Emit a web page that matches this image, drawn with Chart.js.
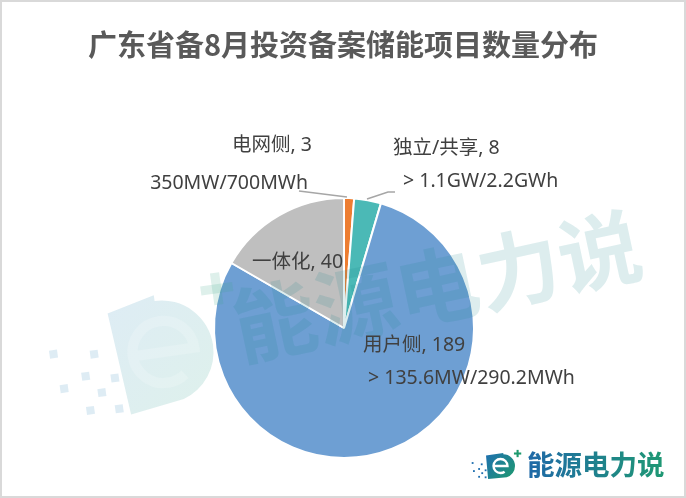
<!DOCTYPE html>
<html>
<head>
<meta charset="utf-8">
<script src="https://cdn.jsdelivr.net/npm/chart.js@4"></script>
<style>
html, body { margin: 0; padding: 0; background: #fff; }
#wrap { width: 682px; height: 494px; border: 2px solid #d9d9d9; }
canvas { display: block; }
</style>
</head>
<body>
<div id="wrap"><canvas id="myChart" width="682" height="494"></canvas></div>
<script>
'use strict';
let chartTitle = '广东省备8月投资备案储能项目数量分布';
let categories = ['电网侧', '独立/共享', '用户侧', '一体化'];
let projectCounts = [3, 8, 189, 40];
let capacityNotes = ['350MW/700MWh', '> 1.1GW/2.2GWh', '> 135.6MW/290.2MWh', ''];
let sliceColors = ['#ED7D31', '#4BB9B6', '#6E9FD3', '#BFBFBF'];
let brandName = '能源电力说';

let FONT = '"Noto Sans CJK SC", "Noto Sans", sans-serif';
let LABEL_FONT = '"Noto Sans", "Noto Sans CJK SC", sans-serif';

// label placement, relative to pie centre (dx, dy) -- not data
let labelSpots = [
    { align: 'right', l1: [-32, -183], l2: [-36, -145], leader: [[-45, -137], [3, -131]] },
    { align: 'left', l1: [49, -180], l2: [59, -147], leader: [[23, -129], [44, -136], [51, -136]] },
    { align: 'left', l1: [19, 17], l2: [24, 50] },
    { align: 'left', l1: [-92, -66] }
];

function drawLogoIcon(ctx, x, y, w, h, fillA, fillB) {
    // D shaped badge with a white "e"
    ctx.save();
    let g = ctx.createLinearGradient(x, y, x + w, y + h);
    g.addColorStop(0, fillA);
    g.addColorStop(1, fillB);
    ctx.fillStyle = g;
    let rr = h * 0.45;
    ctx.beginPath();
    ctx.moveTo(x, y + h * 0.1);
    ctx.lineTo(x + w - rr, y);
    ctx.arc(x + w - rr, y + h * 0.5, rr, -Math.PI / 2, Math.PI / 2 - 0.3);
    ctx.lineTo(x + h * 0.08, y + h);
    ctx.closePath();
    ctx.fill();
    // white "e" strokes
    ctx.strokeStyle = '#fff';
    ctx.lineWidth = h * 0.09;
    let ex = x + w * 0.5, ey = y + h * 0.5, er = h * 0.27;
    ctx.beginPath();
    ctx.moveTo(ex - er, ey);
    ctx.lineTo(ex + er, ey);
    ctx.arc(ex, ey, er, 0, Math.PI * 0.3, true);
    ctx.stroke();
    // plus sign
    ctx.fillStyle = fillB;
    let p = h * 0.08;
    let px = x + w + h * 0.1, py = y + h * 0.02;
    ctx.fillRect(px - h * 0.14, py - p / 2, h * 0.28, p);
    ctx.fillRect(px - p / 2, py - h * 0.14, p, h * 0.28);
    // scattered pixels
    ctx.fillStyle = fillA;
    let dots = [[-0.55, 0.35], [-0.2, 0.4], [-0.3, 0.58], [-0.5, 0.66], [-0.18, 0.74], [-0.05, 0.63], [-0.3, 0.88], [-0.05, 0.9]];
    let d = h * 0.07;
    dots.forEach(function (pt) {
        ctx.fillRect(x + pt[0] * h, y + pt[1] * h, d, d);
    });
    ctx.restore();
}

let decorPlugin = {
    id: 'decor',
    afterDatasetsDraw: function (chart) {
        let ctx = chart.ctx;
        let arc0 = chart.getDatasetMeta(0).data[0];
        let cx = arc0.x, cy = arc0.y;

        // title
        ctx.save();
        ctx.fillStyle = '#595959';
        ctx.font = 'bold 29px ' + FONT;
        ctx.textAlign = 'center';
        ctx.textBaseline = 'middle';
        ctx.fillText(chartTitle, chart.width / 2, 43);
        ctx.restore();

        // big watermark
        ctx.save();
        ctx.translate(cx + 93, cy - 42);
        ctx.rotate(-12 * Math.PI / 180);
        ctx.fillStyle = 'rgba(28,135,142,0.15)';
        ctx.font = 'bold 83px ' + FONT;
        ctx.textAlign = 'center';
        ctx.textBaseline = 'middle';
        ctx.fillText(brandName, 0, 0);
        ctx.restore();

        ctx.save();
        ctx.globalAlpha = 0.17;
        ctx.translate(104, 300);
        ctx.rotate(-8 * Math.PI / 180);
        drawLogoIcon(ctx, 0, 0, 100, 115, '#3a8fc0', '#3aa88a');
        ctx.restore();

        // slice labels
        ctx.save();
        ctx.font = '19.5px ' + LABEL_FONT;
        ctx.fillStyle = '#404040';
        ctx.textBaseline = 'middle';
        for (let i = 0; i < categories.length; i++) {
            let spot = labelSpots[i];
            ctx.textAlign = spot.align;
            ctx.fillText(categories[i] + ', ' + projectCounts[i], cx + spot.l1[0], cy + spot.l1[1]);
            if (capacityNotes[i] && spot.l2) {
                ctx.fillText(capacityNotes[i], cx + spot.l2[0], cy + spot.l2[1]);
            }
            if (spot.leader) {
                ctx.strokeStyle = '#a6a6a6';
                ctx.lineWidth = 1.5;
                ctx.beginPath();
                spot.leader.forEach(function (pt, k) {
                    if (k === 0) ctx.moveTo(cx + pt[0], cy + pt[1]);
                    else ctx.lineTo(cx + pt[0], cy + pt[1]);
                });
                ctx.stroke();
            }
        }
        ctx.restore();

        // bottom right brand
        ctx.save();
        drawLogoIcon(ctx, 484, 451, 29, 26, '#1f6fb0', '#1e9a6e');
        let tg = ctx.createLinearGradient(524, 0, 666, 0);
        tg.addColorStop(0, '#1f68a8');
        tg.addColorStop(1, '#1f9a72');
        ctx.fillStyle = tg;
        ctx.font = 'bold 27.5px ' + FONT;
        ctx.textAlign = 'left';
        ctx.textBaseline = 'middle';
        ctx.fillText(brandName, 525, 463);
        ctx.restore();
    }
};

let ctx = document.getElementById('myChart').getContext('2d');
let myChart = new Chart(ctx, {
    type: 'pie',
    data: {
        labels: categories,
        datasets: [{
            data: projectCounts,
            backgroundColor: sliceColors,
            borderColor: '#ffffff',
            borderWidth: 2
        }]
    },
    options: {
        responsive: false,
        animation: false,
        layout: {
            padding: { top: 195, bottom: 37, left: 211, right: 209 }
        },
        plugins: {
            legend: { display: false },
            tooltip: { enabled: false },
            title: { display: false }
        }
    },
    plugins: [decorPlugin]
});
</script>
</body>
</html>
